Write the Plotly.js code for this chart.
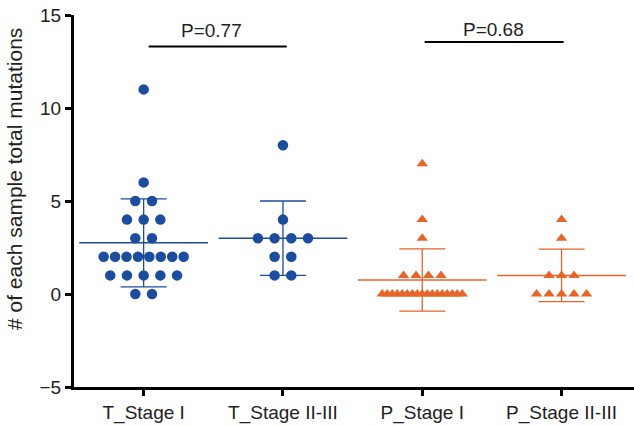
<!DOCTYPE html>
<html>
<head>
<meta charset="utf-8">
<script src="https://cdn.plot.ly/plotly-3.0.1.min.js"></script>
<style>html,body{margin:0;padding:0;background:#fff;}#chart{width:634px;height:426px;}</style>
</head>
<body>
<div id="chart"></div>
<script>
// ---- data ----
const categories = ['T_Stage I', 'T_Stage II-III', 'P_Stage I', 'P_Stage II-III'];
const tStageI = [11, 6, 5, 5, 4, 4, 4, 3, 3, 2, 2, 2, 2, 2, 2, 2, 2, 1, 1, 1, 1, 1, 0, 0];
const tStageII_III = [8, 4, 3, 3, 3, 3, 2, 2, 1, 1];
const pStageI = [7, 4, 3, 1, 1, 1, 1, 0, 0, 0, 0, 0, 0, 0, 0, 0, 0, 0, 0, 0, 0, 0, 0, 0];
const pStageII_III = [4, 3, 1, 1, 1, 0, 0, 0, 0, 0];
const pValueLabels = ['P=0.77', 'P=0.68'];
const yTitle = '# of each sample total mutations';
const yTickValues = [-5, 0, 5, 10, 15];

// ---- layout / style ----
const BLUE = '#1c4c9e';
const ORANGE = '#e8652a';
const FONT = 'Liberation Sans, Arial, Helvetica, sans-serif';
const W = 634, H = 426;
const margin = {l: 74, r: 0, t: 15, b: 39};
const xRange = [-0.5, 3.52];
const pxPerUnit = (W - margin.l - margin.r) / (xRange[1] - xRange[0]);

const groups = [
  {vals: tStageI, color: BLUE, symbol: 'circle', size: 10.5, gap: 16.7},
  {vals: tStageII_III, color: BLUE, symbol: 'circle', size: 10.5, gap: 16.7},
  {vals: pStageI, color: ORANGE, symbol: 'triangle-up', size: 10, gap: 12.5},
  {vals: pStageII_III, color: ORANGE, symbol: 'triangle-up', size: 10, gap: 12.5}
];
const MAX_SPREAD = 80; // px

function mean(a){ return a.reduce((s,v)=>s+v,0)/a.length; }
function sd(a){ const m = mean(a); return Math.sqrt(a.reduce((s,v)=>s+(v-m)*(v-m),0)/(a.length-1)); }

const traces = [];
groups.forEach((g, i) => {
  const m = mean(g.vals), s = sd(g.vals);
  traces.push({
    x: [i], y: [m], type: 'scatter', mode: 'markers',
    marker: {symbol: 'line-ew-open', size: 92, color: g.color, line: {color: g.color, width: 1.5}},
    error_y: {type: 'data', array: [s], visible: true, color: g.color, thickness: 1.3, width: 23},
    hoverinfo: 'skip', showlegend: false
  });
  const counts = {};
  g.vals.forEach(v => { counts[v] = (counts[v] || 0) + 1; });
  const seen = {};
  const xs = [], ys = [];
  g.vals.forEach(v => {
    const n = counts[v];
    const k = seen[v] = (seen[v] === undefined ? 0 : seen[v] + 1);
    const gap = n > 1 ? Math.min(g.gap, MAX_SPREAD / (n - 1)) : 0;
    const offPx = (k - (n - 1) / 2) * gap;
    xs.push(i + offPx / pxPerUnit);
    ys.push(v);
  });
  traces.push({
    x: xs, y: ys, type: 'scatter', mode: 'markers',
    marker: {symbol: g.symbol, size: g.size, color: g.color, line: {width: 0}},
    hoverinfo: 'skip', showlegend: false
  });
});

const layout = {
  width: W, height: H, margin: margin,
  paper_bgcolor: '#fff', plot_bgcolor: '#fff',
  showlegend: false,
  font: {family: FONT, size: 19, color: '#222'},
  xaxis: {
    range: xRange, tickmode: 'array', tickvals: [0,1,2,3], ticktext: categories,
    showgrid: false, zeroline: false, showline: true, linecolor: '#000', linewidth: 3,
    ticks: 'outside', ticklen: 6, tickwidth: 3, tickcolor: '#000',
    tickfont: {family: FONT, size: 19, color: '#222'}
  },
  yaxis: {
    range: [-5, 15], tickmode: 'array', tickvals: yTickValues,
    ticktext: yTickValues.map(v => v < 0 ? '\u2212' + Math.abs(v) : String(v)),
    showgrid: false, zeroline: false, showline: true, linecolor: '#000', linewidth: 3,
    ticks: 'outside', ticklen: 6, tickwidth: 3, tickcolor: '#000',
    tickfont: {family: FONT, size: 19, color: '#222'}
  },
  shapes: [
    {type: 'line', xref: 'x', yref: 'y', x0: 0.036, x1: 1.027, y0: 13.3, y1: 13.3, line: {color: '#000', width: 2}},
    {type: 'line', xref: 'x', yref: 'y', x0: 2.017, x1: 3.015, y0: 13.55, y1: 13.55, line: {color: '#000', width: 2}}
  ],
  annotations: [
    {xref: 'x', yref: 'y', x: 0.49, y: 14.15, text: pValueLabels[0], showarrow: false, xanchor: 'center', yanchor: 'middle', font: {family: FONT, size: 19, color: '#222'}},
    {xref: 'x', yref: 'y', x: 2.51, y: 14.2, text: pValueLabels[1], showarrow: false, xanchor: 'center', yanchor: 'middle', font: {family: FONT, size: 19, color: '#222'}},
    {xref: 'paper', yref: 'paper', x: (14 - 74) / 560, y: (387 - 179) / 372, text: yTitle, textangle: -90, showarrow: false,
     xanchor: 'center', yanchor: 'middle', font: {family: FONT, size: 21, color: '#222'}}
  ]
};

Plotly.newPlot('chart', traces, layout, {staticPlot: true, displayModeBar: false});
</script>
</body>
</html>
